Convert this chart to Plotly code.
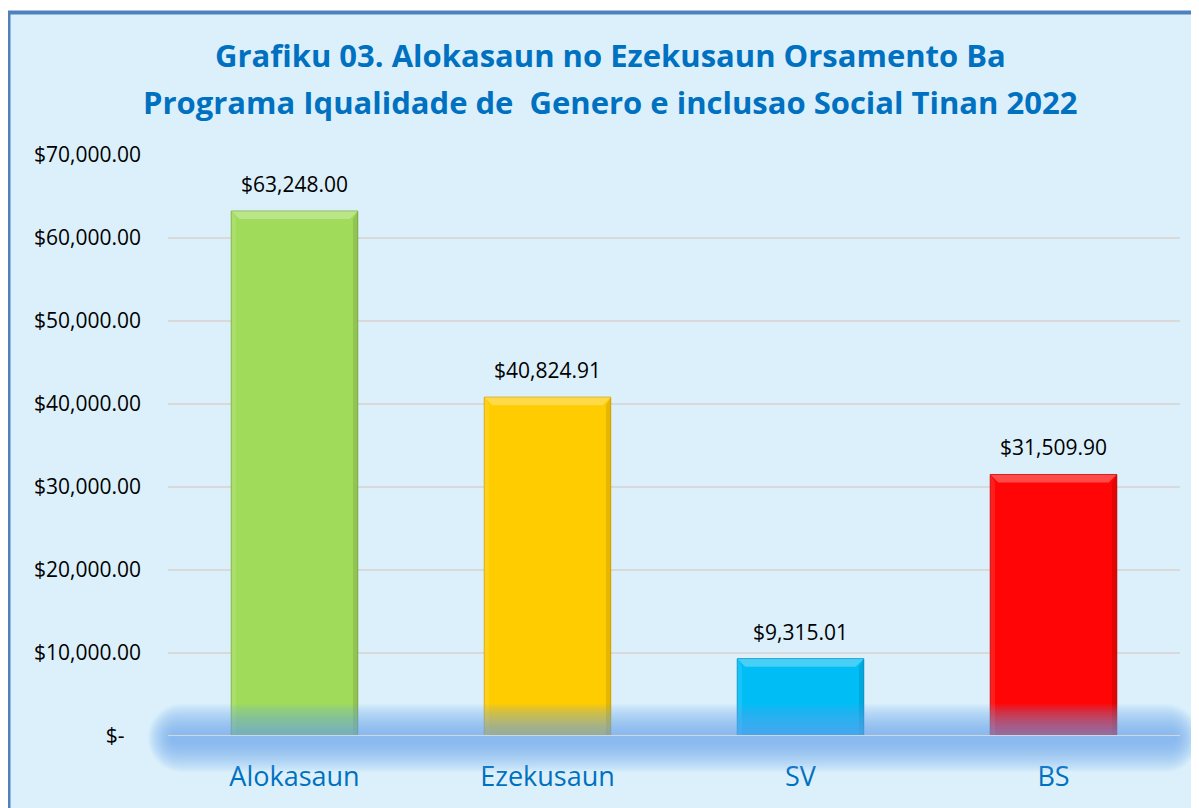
import plotly.graph_objects as go

# ---- data ----
categories = ["Alokasaun", "Ezekusaun", "SV", "BS"]
values = [63248.00, 40824.91, 9315.01, 31509.90]
bar_colors = ["#A0DC5A", "#FFCC00", "#00BDF6", "#FF0505"]
edge_colors = ["#7FB043", "#D9A800", "#0098CC", "#C80000"]
tick_vals = [0, 10000, 20000, 30000, 40000, 50000, 60000, 70000]
tick_text = ["$-\u00a0\u00a0\u00a0", "$10,000.00", "$20,000.00", "$30,000.00",
             "$40,000.00", "$50,000.00", "$60,000.00", "$70,000.00"]
title_lines = ["Grafiku 03. Alokasaun no Ezekusaun Orsamento Ba",
               "Programa Iqualidade de\u00a0 Genero e inclusao Social Tinan 2022"]

# the page places the figure 8px from the top-left corner
OFF = 8
W, H = 1199 - OFF, 808 - OFF
L, R, T, B = 168 - OFF, 1180 - OFF, 155 - OFF, 736 - OFF
YMAX = 70000


def px_x(p):
    return (p - OFF - L) / (R - L)


def px_y(p):
    return (B - (p - OFF)) / (B - T)


fig = go.Figure()
fig.add_trace(go.Bar(
    x=categories, y=values, width=0.5,
    marker=dict(color=bar_colors, line=dict(color=edge_colors, width=1)),
    hoverinfo="skip", showlegend=False,
))

shapes = []
# chart frame
shapes.append(dict(type="rect", xref="paper", yref="paper",
                   x0=px_x(8.5), x1=px_x(1230), y0=px_y(840), y1=px_y(12.5),
                   line=dict(color="#4F81BD", width=4), fillcolor="#DCF0FB",
                   layer="below"))

# bevel highlights on each bar (derived from bar values)
bw = 0.25
dx = 8 / (R - L) * 4          # ~8px in category units
dy = 8 / (B - T) * YMAX       # ~8px in value units
for i, v in enumerate(values):
    x0, x1 = i - bw, i + bw
    shapes.append(dict(type="path", xref="x", yref="y",
                       path=f"M {x0},{v} L {x1},{v} L {x1 - dx},{v - dy} L {x0 + dx},{v - dy} Z",
                       fillcolor="rgba(255,255,255,0.28)", line=dict(width=0), layer="above"))
    shapes.append(dict(type="path", xref="x", yref="y",
                       path=f"M {x1},{v} L {x1},0 L {x1 - dx * 0.6},0 L {x1 - dx * 0.6},{v - dy} Z",
                       fillcolor="rgba(0,0,0,0.10)", line=dict(width=0), layer="above"))
    shapes.append(dict(type="path", xref="x", yref="y",
                       path=f"M {x0},{v} L {x0},0 L {x0 + dx * 0.6},0 L {x0 + dx * 0.6},{v - dy} Z",
                       fillcolor="rgba(255,255,255,0.10)", line=dict(width=0), layer="above"))


def rounded(x0, x1, yc, h):
    k = 0.5523 * h
    y0, y1 = yc - h, yc + h
    path = (f"M {px_x(x0 + h)},{px_y(y0)} L {px_x(x1 - h)},{px_y(y0)} "
            f"C {px_x(x1 - h + k)},{px_y(y0)} {px_x(x1)},{px_y(yc - k)} {px_x(x1)},{px_y(yc)} "
            f"C {px_x(x1)},{px_y(yc + k)} {px_x(x1 - h + k)},{px_y(y1)} {px_x(x1 - h)},{px_y(y1)} "
            f"L {px_x(x0 + h)},{px_y(y1)} "
            f"C {px_x(x0 + h - k)},{px_y(y1)} {px_x(x0)},{px_y(yc + k)} {px_x(x0)},{px_y(yc)} "
            f"C {px_x(x0)},{px_y(yc - k)} {px_x(x0 + h - k)},{px_y(y0)} {px_x(x0 + h)},{px_y(y0)} Z")
    return path


# soft glow along the base line
n = 16
for i in range(n):
    h = 34 - i * 1.9
    inset = (34 - h) * 0.8
    shapes.append(dict(type="path", xref="paper", yref="paper",
                       path=rounded(148 + inset, 1199 - inset, 738, h),
                       fillcolor="rgba(110,165,235,0.065)", line=dict(width=0),
                       layer="above"))
# base line on top of glow
shapes.append(dict(type="line", xref="paper", yref="y", x0=0, x1=1, y0=0, y1=0,
                   line=dict(color="#D3D7DC", width=2), layer="above"))

annotations = []
for c, v in zip(categories, values):
    annotations.append(dict(x=c, y=v, xref="x", yref="y", text=f"${v:,.2f}",
                            showarrow=False, yanchor="bottom", yshift=11,
                            font=dict(family="Open Sans", size=21, color="#000000")))
for line, yp in zip(title_lines, [55, 102]):
    annotations.append(dict(x=px_x(610), y=px_y(yp), xref="paper", yref="paper",
                            text=f"<b>{line}</b>", showarrow=False,
                            xanchor="center", yanchor="middle",
                            font=dict(family="Open Sans", size=31, color="#0070C0")))

fig.update_layout(
    width=W, height=H,
    margin=dict(l=L, r=W - R, t=T, b=H - B, pad=0),
    paper_bgcolor="#FFFFFF",
    plot_bgcolor="rgba(0,0,0,0)",
    shapes=shapes, annotations=annotations,
    bargap=0.5,
    xaxis=dict(range=[-0.5, 3.5], showgrid=False, zeroline=False, showline=False,
               ticks="", tickfont=dict(family="Open Sans", size=27, color="#0070C0"),
               ticklabelstandoff=22),
    yaxis=dict(range=[0, YMAX], tickvals=tick_vals, ticktext=tick_text,
               showgrid=True, gridcolor="#D9D9D9", gridwidth=2, zeroline=False,
               showline=False, ticks="",
               tickfont=dict(family="Open Sans", size=21, color="#000000"),
               ticklabelstandoff=26),
)

fig.write_html("out.html")
